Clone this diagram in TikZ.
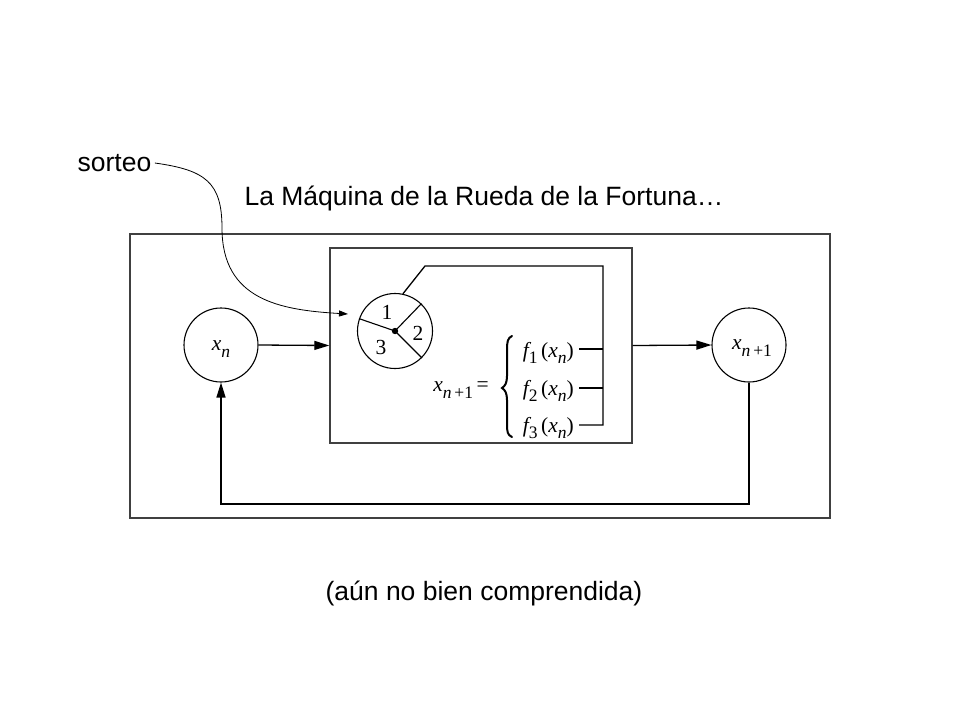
\documentclass[tikz,border=0pt]{standalone}
\usepackage{fontspec}
\setmainfont{Liberation Sans}
\newfontfamily\tms{Liberation Serif}
\usetikzlibrary{arrows.meta}
\newcommand\sbs[1]{\raisebox{-0.3em}{\fontsize{17.5}{17.5}\selectfont #1}}
\begin{document}
\begin{tikzpicture}[x=1pt,y=-1pt,
  box/.style={draw=black!75, line width=1.4pt, inner sep=0pt},
  circ/.style={draw, circle, line width=1.1pt, inner sep=0pt, minimum size=74pt},
  wire/.style={line width=1.3pt},
  arr/.style={wire, -{Triangle[length=15pt,width=9pt]}},
  big/.style={font=\fontsize{26.5}{30}\selectfont},
  mth/.style={font=\tms\fontsize{21.5}{24}\selectfont, inner sep=0pt}]
\useasboundingbox (0,0) rectangle (960,720);
\fill[white] (0,0) rectangle (960,720);
% texts
\node[big] (sorteo) at (114.5,163) {sorteo};
\node[big] (title) at (484,198) {La Máquina de la Rueda de la Fortuna…};
\node[big] (note) at (484,593) {(aún no bien comprendida)};
% boxes
\node[box, minimum width=700pt, minimum height=284pt] (outer) at (480,376) {};
\node[box, minimum width=302pt, minimum height=195pt] (inner) at (481,345.5) {};
% state circles
\node[circ] (xn) at (221,345) {};
\node[mth] (xnl) at (221,349) {\itshape x\sbs{n}};
\node[circ] (xn1) at (749,345) {};
\node[mth] (xn1l) at (752,348) {\itshape x\sbs{n\,\upshape +1}};
% wheel
\node[circ, minimum size=75pt] (wheel) at (395,331) {};
\draw[line width=1.1pt] (wheel.center) -- (wheel.161);
\draw[line width=1.1pt] (wheel.center) -- (wheel.46);
\draw[line width=1.1pt] (wheel.center) -- (wheel.-45);
\fill (wheel.center) circle (3.2pt);
\node[mth] (w1) at (387,312) {1};
\node[mth] (w2) at (418,333) {2};
\node[mth] (w3) at (381,347) {3};
% equation
\node[mth, anchor=east] (eq) at (489,390) {\itshape x\sbs{n\,\upshape +1}\upshape\,=};
\node[mth, anchor=east] (f1) at (574,353) {\itshape f\sbs{\upshape 1}\,\upshape(\itshape x\sbs{n}\upshape)};
\node[mth, anchor=east] (f2) at (574,391) {\itshape f\sbs{\upshape 2}\,\upshape(\itshape x\sbs{n}\upshape)};
\node[mth, anchor=east] (f3) at (574,428) {\itshape f\sbs{\upshape 3}\,\upshape(\itshape x\sbs{n}\upshape)};
% brace
\draw[line width=2pt, line cap=round] (512,336) .. controls (507.5,338) and (507,342) .. (507,350) -- (507,376)
  .. controls (507,383) and (505,386) .. (502,388) .. controls (505,390) and (507,393) .. (507,400)
  -- (507,424) .. controls (507,432) and (507.5,435) .. (512,437);
% wheel selector wires
\coordinate (k1) at (425,266);
\coordinate (k2) at (603,266);
\coordinate (k3) at (603,425);
\coordinate (b1) at (603,349);
\coordinate (b2) at (603,388);
\coordinate (e1) at (579,349);
\coordinate (e2) at (579,388);
\coordinate (e3) at (579,425);
\draw[wire] (wheel.78) -- (k1) -- (k2) -- (k3) -- (e3);
\draw[wire] (e1) -- (b1);
\draw[wire] (e2) -- (b2);
% flow arrows
\draw[arr] (xn.east) -- (inner.west);
\draw[arr] (inner.east) -- (xn1.west);
\coordinate (fb) at (480,504);
\draw[arr] (xn1.south) |- (fb) -| (xn.south);
% sorteo arrow
\coordinate (tip) at (348,314);
\draw[line width=0.8pt, -{Triangle[length=9pt,width=6pt]}] (sorteo.east) .. controls (205,170) and (222,182) .. (222,228) .. controls (222,300) and (280,310) .. (tip);
\end{tikzpicture}
\end{document}
